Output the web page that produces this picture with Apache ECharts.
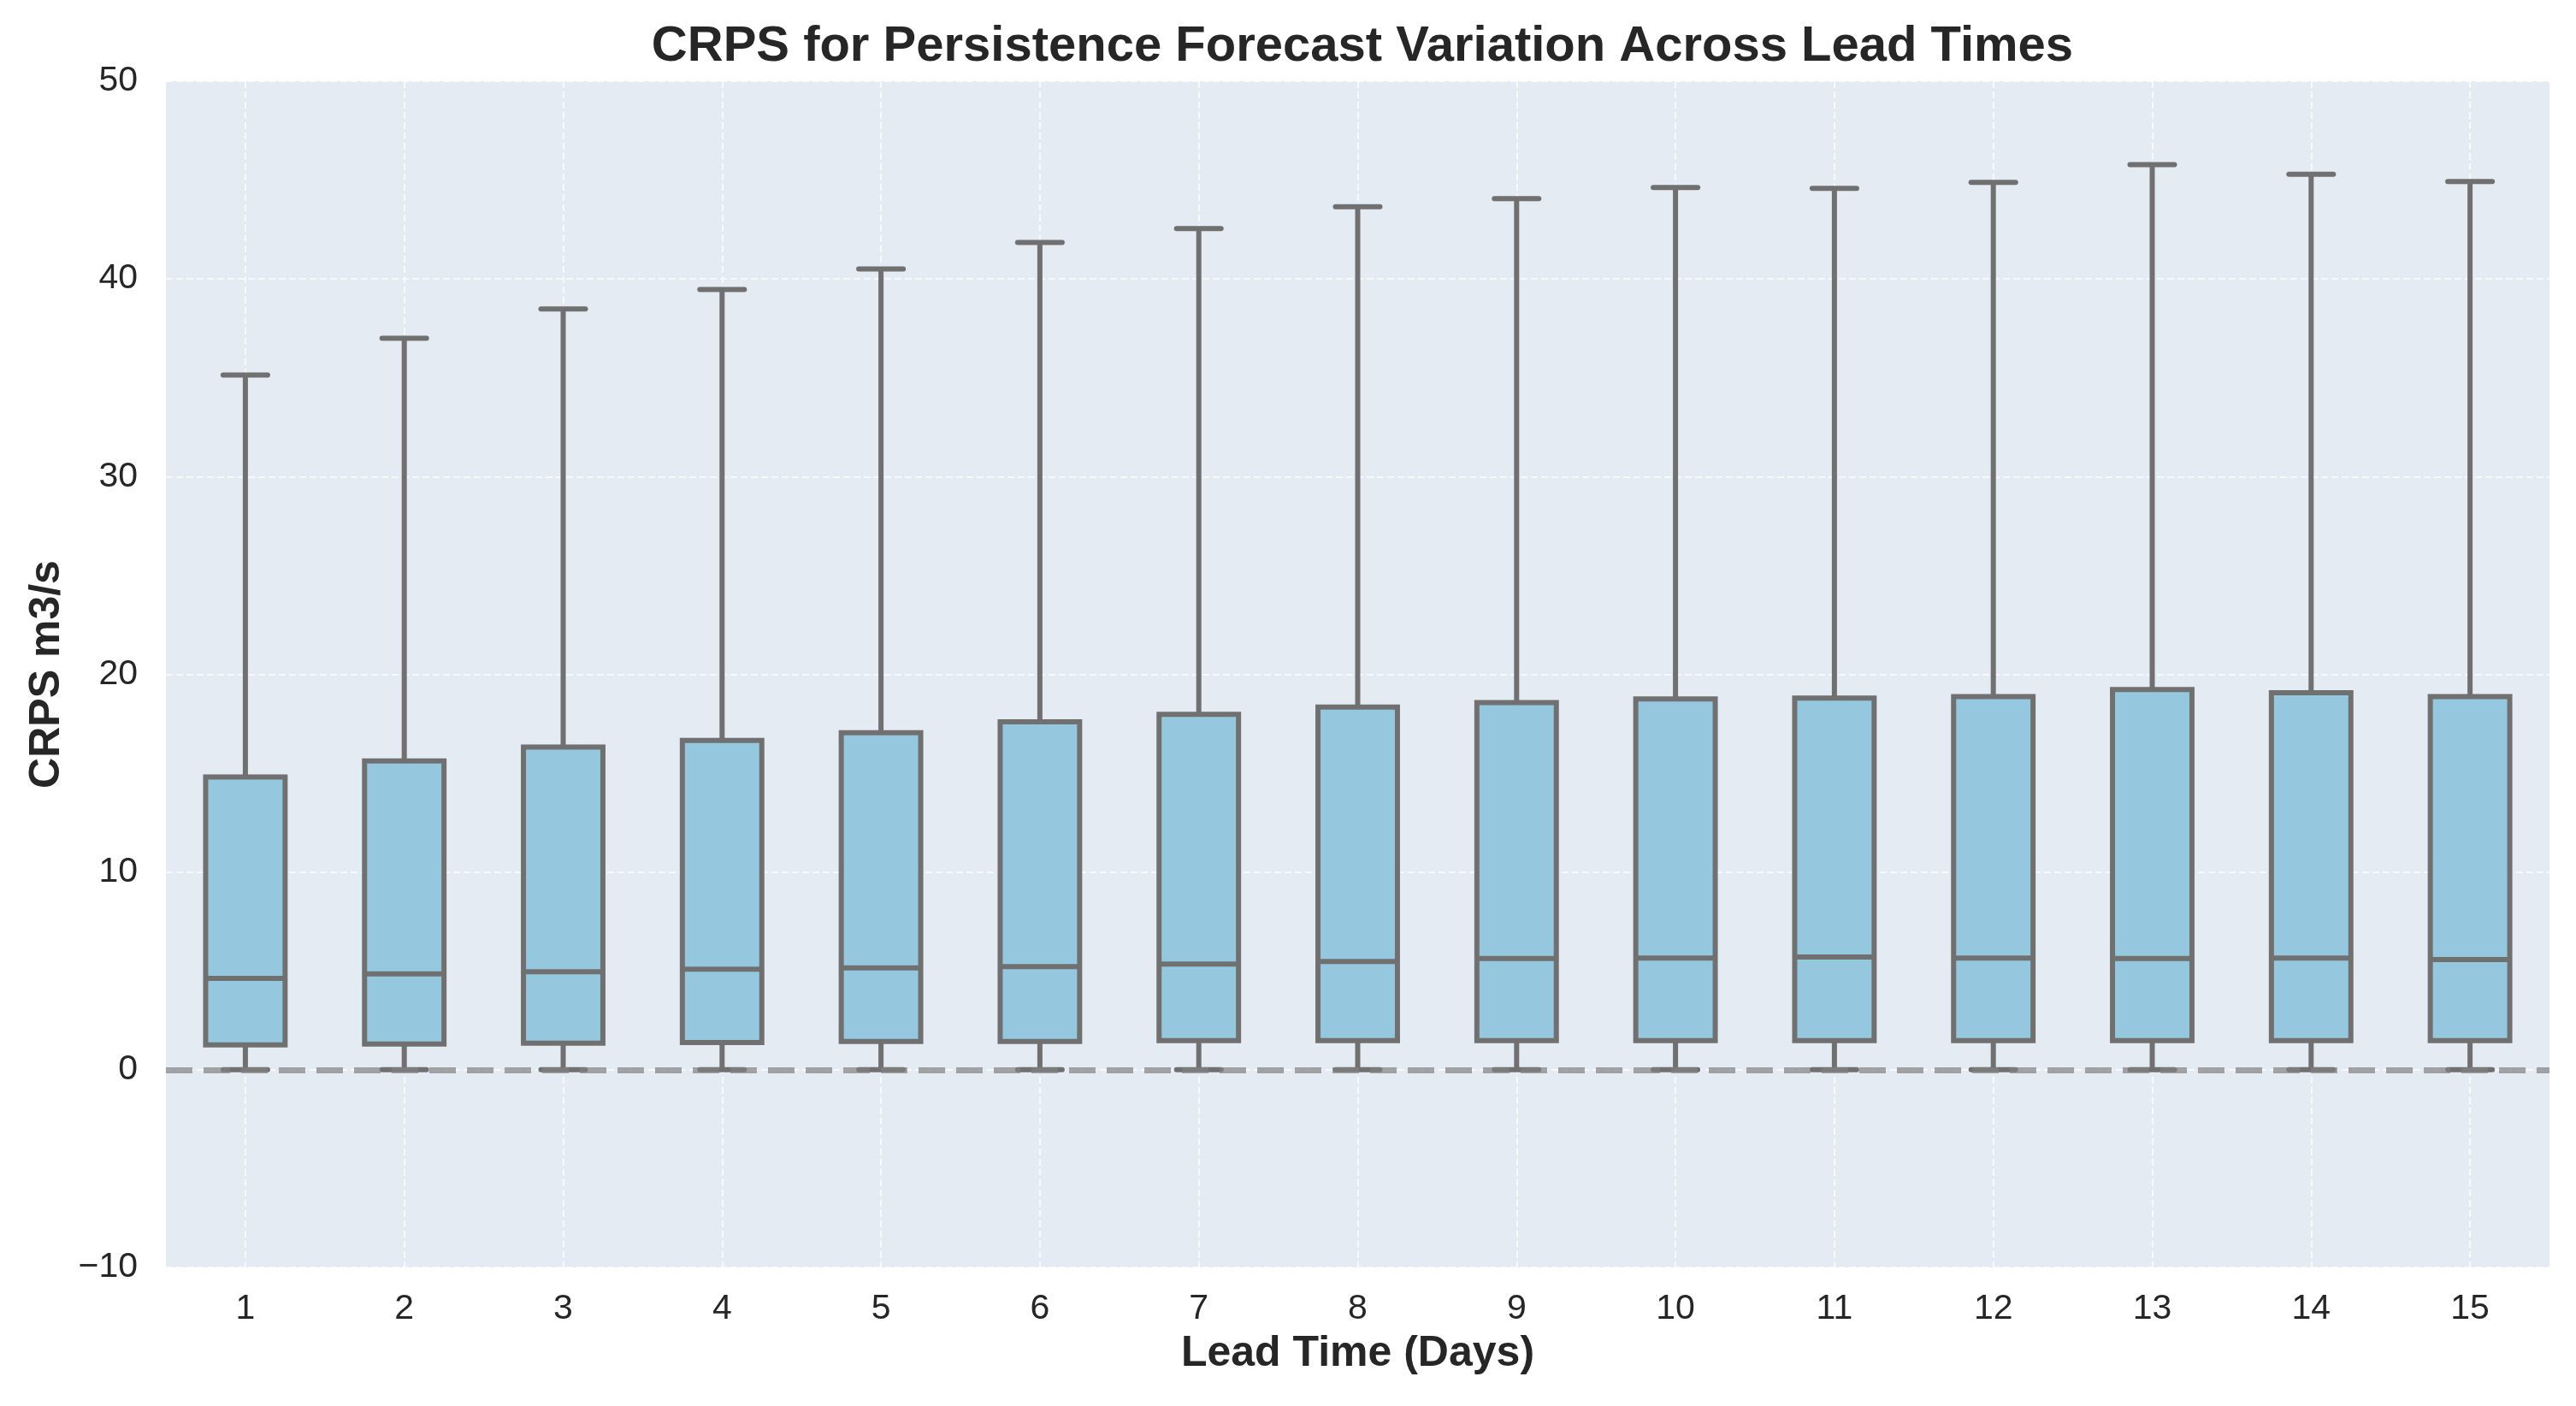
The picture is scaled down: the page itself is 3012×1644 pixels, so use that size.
<!DOCTYPE html>
<html>
<head>
<meta charset="utf-8">
<style>
  html, body { margin: 0; padding: 0; background: #ffffff; }
  #main { width: 3012px; height: 1644px; }
</style>
<script src="https://cdn.jsdelivr.net/npm/echarts@6/dist/echarts.min.js"></script>
</head>
<body>
<div id="main"></div>
<script>
var leadTimes = ['1', '2', '3', '4', '5', '6', '7', '8', '9', '10', '11', '12', '13', '14', '15'];
var whiskerLow = [0, 0, 0, 0, 0, 0, 0, 0, 0, 0, 0, 0, 0, 0, 0];
var q1 = [1.26, 1.30, 1.34, 1.38, 1.43, 1.43, 1.47, 1.47, 1.47, 1.47, 1.47, 1.47, 1.47, 1.47, 1.47];
var median = [4.62, 4.85, 4.96, 5.09, 5.15, 5.22, 5.35, 5.48, 5.63, 5.65, 5.70, 5.65, 5.63, 5.65, 5.57];
var q3 = [14.81, 15.62, 16.32, 16.66, 17.05, 17.6, 17.98, 18.35, 18.57, 18.76, 18.8, 18.87, 19.23, 19.07, 18.87];
var whiskerHigh = [35.14, 37.0, 38.48, 39.47, 40.5, 41.85, 42.55, 43.65, 44.06, 44.62, 44.58, 44.89, 45.78, 45.3, 44.93];
var yTicks = [-10, 0, 10, 20, 30, 40, 50];

var edge = '#707070';
var fill = '#95c8de';
var font = 'Liberation Sans, Arial, sans-serif';

var boxData = leadTimes.map(function (t, i) {
  return [i, whiskerLow[i], q1[i], median[i], q3[i], whiskerHigh[i]];
});

function renderBox(params, api) {
  var x = api.value(0);
  var pLow = api.coord([x, api.value(1)]);
  var pQ1 = api.coord([x, api.value(2)]);
  var pMed = api.coord([x, api.value(3)]);
  var pQ3 = api.coord([x, api.value(4)]);
  var pHigh = api.coord([x, api.value(5)]);
  var bw = api.size([1, 0])[0] * 0.5;
  var cw = bw * 0.56;
  var cx = pMed[0];
  var lw = 6;
  var lineStyle = { stroke: edge, lineWidth: lw, lineCap: 'butt' };
  var capStyle = { stroke: edge, lineWidth: lw, lineCap: 'round' };
  return {
    type: 'group',
    children: [
      { type: 'line', shape: { x1: cx, y1: pQ3[1], x2: cx, y2: pHigh[1] }, style: lineStyle },
      { type: 'line', shape: { x1: cx, y1: pQ1[1], x2: cx, y2: pLow[1] }, style: lineStyle },
      { type: 'line', shape: { x1: cx - cw / 2, y1: pHigh[1], x2: cx + cw / 2, y2: pHigh[1] }, style: capStyle },
      { type: 'line', shape: { x1: cx - cw / 2, y1: pLow[1], x2: cx + cw / 2, y2: pLow[1] }, style: capStyle },
      { type: 'rect', shape: { x: cx - bw / 2, y: pQ3[1], width: bw, height: pQ1[1] - pQ3[1] },
        style: { fill: fill, stroke: edge, lineWidth: lw } },
      { type: 'line', shape: { x1: cx - bw / 2, y1: pMed[1], x2: cx + bw / 2, y2: pMed[1] }, style: lineStyle }
    ]
  };
}

var myChart = echarts.init(document.getElementById('main'));

var option = {
  backgroundColor: '#ffffff',
  title: {
    text: 'CRPS for Persistence Forecast Variation Across Lead Times',
    left: 1588,
    top: 21,
    textAlign: 'center',
    textStyle: { fontFamily: font, fontSize: 58, fontWeight: 'bold', color: '#262626' }
  },
  grid: {
    left: 194,
    right: 31,
    top: 95,
    bottom: 162,
    show: true,
    backgroundColor: '#e5ebf3',
    borderWidth: 0
  },
  xAxis: {
    type: 'category',
    data: leadTimes,
    boundaryGap: true,
    name: 'Lead Time (Days)',
    nameLocation: 'middle',
    nameGap: 76,
    nameTextStyle: { fontFamily: font, fontSize: 50, fontWeight: 'bold', color: '#262626' },
    axisLine: { show: false },
    axisTick: { show: false, alignWithLabel: true },
    axisLabel: { fontFamily: font, fontSize: 41, color: '#262626', margin: 28 },
    splitLine: {
      show: true,
      alignWithLabel: true,
      lineStyle: { color: 'rgba(255,255,255,0.7)', width: 2, type: [8, 4] }
    }
  },
  yAxis: {
    type: 'value',
    min: yTicks[0],
    max: yTicks[yTicks.length - 1],
    interval: 10,
    name: 'CRPS m3/s',
    nameLocation: 'middle',
    nameGap: 108,
    nameRotate: 90,
    nameTextStyle: { fontFamily: font, fontSize: 50, fontWeight: 'bold', color: '#262626' },
    axisLine: { show: false },
    axisTick: { show: false },
    axisLabel: {
      fontFamily: font, fontSize: 41, color: '#262626', margin: 33,
      formatter: function (v) { return v < 0 ? '\u2212' + Math.abs(v) : String(v); }
    },
    splitLine: {
      show: true,
      lineStyle: { color: 'rgba(255,255,255,0.7)', width: 2, type: [8, 4] }
    }
  },
  series: [{
    name: 'CRPS',
    type: 'custom',
    renderItem: renderBox,
    encode: { x: 0, y: [1, 2, 3, 4, 5] },
    data: boxData,
    markLine: {
      silent: true,
      symbol: 'none',
      label: { show: false },
      lineStyle: { color: 'rgba(128,128,128,0.7)', width: 7, type: [31, 13] },
      data: [{ yAxis: 0 }]
    }
  }]
};

myChart.setOption(option);
</script>
</body>
</html>
